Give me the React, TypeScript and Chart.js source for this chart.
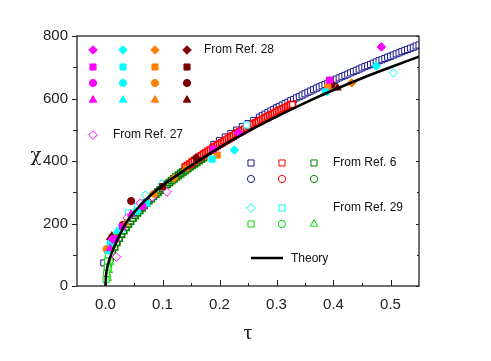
import React, { useEffect, useRef } from "react";
import { Chart, registerables } from "chart.js";
Chart.register(...registerables);

// ---------- axis ticks ----------
const xTickValues = [0, 0.1, 0.2, 0.3, 0.4, 0.5];
const xMinorTickValues = [0.05, 0.15, 0.25, 0.35, 0.45];
const yTickValues = [0, 200, 400, 600, 800];
const yMinorTickValues = [100, 300, 500, 700];

// ---------- theory ----------
const theoryTau = [0, 0.001, 0.003, 0.006, 0.011, 0.02, 0.037, 0.058, 0.08, 0.1, 0.122, 0.15, 0.2, 0.25, 0.3, 0.35, 0.4, 0.45, 0.5, 0.55];
const theoryChi = [0, 35, 58, 80, 106, 145, 205, 252, 292, 322, 350, 385, 443, 495, 542, 586, 627, 665, 700, 734];

// ---------- Ref. 28 (filled) ----------
const r28MagDiaTau = [0.484, 0.233, 0.012];
const r28MagDiaChi = [765, 490, 150];
const r28MagSqTau = [0.393, 0.189, 0.03];
const r28MagSqChi = [659, 438, 190];
const r28MagCirTau = [0.065, 0.018];
const r28MagCirChi = [255, 150];
const r28MagTriTau = [0.045, 0.008];
const r28MagTriChi = [230, 120];

const r28CyaDiaTau = [0.475, 0.226];
const r28CyaDiaChi = [704, 435];
const r28CyaSqTau = [0.386, 0.187, 0.072];
const r28CyaSqChi = [621, 406, 265];
const r28CyaCirTau = [0.009, 0.055];
const r28CyaCirChi = [138, 240];
const r28CyaTriTau = [0.02, 0.005];
const r28CyaTriChi = [175, 110];

const r28OraDiaTau = [0.432, 0.12];
const r28OraDiaChi = [650, 345];
const r28OraSqTau = [0.39, 0.196];
const r28OraSqChi = [637, 419];
const r28OraCirTau = [0.002, 0.085];
const r28OraCirChi = [118, 295];
const r28OraTriTau = [0.035, 0.14];
const r28OraTriChi = [200, 375];

const r28DrdDiaTau = [0.159, 0.009];
const r28DrdDiaChi = [410, 150];
const r28DrdSqTau = [0.397, 0.1];
const r28DrdSqChi = [643, 318];
const r28DrdCirTau = [0.045, 0.03];
const r28DrdCirChi = [272, 195];
const r28DrdTriTau = [0.407, 0.011];
const r28DrdTriChi = [634, 160];

// ---------- Ref. 27 (open magenta diamond) ----------
const r27Tau = [0.108, 0.061, 0.038, 0.019, 0.082];
const r27Chi = [301, 265, 218, 93, 285];

// ---------- Ref. 29 ----------
const r29CyaDiaTau = [0.098, 0.07, 0.505];
const r29CyaDiaChi = [326, 291, 682];
const r29CyaSqTau = [0.248, 0.04, 0.056, 0.028];
const r29CyaSqChi = [515, 234, 253, 182];
const r29GrnSqTau = [0.001, 0.002, 0.003, 0.004, 0.005, 0.007, 0.009, 0.011];
const r29GrnSqChi = [20, 40, 60, 80, 100, 120, 140, 155];
const r29GrnCirTau = [0.003, 0.005, 0.007, 0.009, 0.012];
const r29GrnCirChi = [30, 55, 80, 105, 130];
const r29GrnTriTau = [0.004, 0.006, 0.008, 0.011];
const r29GrnTriChi = [25, 50, 75, 100];

// ---------- Ref. 6 ----------
const r6NavySqTau = [-0.003, 0.128, 0.19, 0.2, 0.21, 0.22, 0.23, 0.24, 0.25, 0.26,
  0.27, 0.275, 0.28, 0.285, 0.29, 0.295, 0.3, 0.305, 0.31, 0.315, 0.32, 0.325, 0.33, 0.335, 0.34, 0.345,
  0.35, 0.355, 0.36, 0.365, 0.37, 0.375, 0.38, 0.385, 0.39, 0.395, 0.4, 0.405, 0.41, 0.415, 0.42, 0.425,
  0.43, 0.435, 0.44, 0.445, 0.45, 0.455, 0.46, 0.465, 0.47, 0.475, 0.48, 0.485, 0.49, 0.495, 0.5, 0.505,
  0.51, 0.515, 0.52, 0.525, 0.53, 0.535, 0.54, 0.545, 0.55];
const r6NavySqChi = [74, 355, 453, 465, 477, 488, 499, 510, 520, 530,
  540, 545, 550, 555, 560, 565, 570, 574, 579, 584, 588, 593, 597, 602, 606, 611,
  615, 620, 624, 628, 633, 637, 641, 645, 649, 654, 658, 662, 666, 670, 674, 678,
  682, 686, 690, 694, 698, 702, 705, 709, 713, 717, 721, 724, 728, 732, 735, 739,
  743, 746, 750, 754, 757, 761, 764, 768, 771];
const r6RedSqTau = [0.14, 0.144, 0.148, 0.152, 0.156, 0.16, 0.164, 0.168, 0.172, 0.176, 0.18, 0.184,
  0.188, 0.192, 0.196, 0.2, 0.204, 0.208, 0.212, 0.216, 0.22, 0.224, 0.228, 0.232, 0.236, 0.24, 0.244,
  0.248, 0.252, 0.256, 0.26, 0.264, 0.268, 0.272, 0.276, 0.28, 0.284, 0.288, 0.292, 0.296, 0.3, 0.304,
  0.308, 0.312, 0.316, 0.32, 0.324, 0.328];
const r6RedSqChi = [380, 385, 390, 396, 401, 406, 411, 416, 421, 426, 431, 435,
  440, 445, 449, 454, 458, 463, 467, 472, 476, 480, 485, 489, 493, 497, 501,
  505, 510, 514, 518, 522, 525, 529, 533, 537, 541, 545, 548, 552, 556, 560,
  563, 567, 571, 574, 578, 581];
const r6GreenSqTau = [0.004, 0.008, 0.012, 0.016, 0.02, 0.024, 0.028, 0.032, 0.036, 0.04, 0.044, 0.048,
  0.052, 0.056, 0.06, 0.064, 0.068, 0.072, 0.076, 0.08, 0.084, 0.088, 0.092, 0.096, 0.1, 0.104, 0.108,
  0.112, 0.116, 0.12, 0.124, 0.128, 0.132, 0.136, 0.14, 0.144, 0.148, 0.152, 0.156, 0.16, 0.164, 0.168, 0.172];
const r6GreenSqChi = [63, 89, 108, 125, 140, 153, 166, 177, 188, 198, 208, 217,
  226, 234, 242, 250, 258, 266, 273, 280, 287, 294, 300, 307, 313, 319, 325,
  331, 337, 343, 349, 354, 360, 365, 370, 376, 381, 386, 391, 396, 401, 406, 411];
const r6NavyCirTau = [0.3, 0.4, 0.5];
const r6NavyCirChi = [570, 655, 735];
const r6RedCirTau = [0.16, 0.22, 0.28];
const r6RedCirChi = [405, 478, 537];
const r6GreenCirTau = [0.05, 0.1, 0.14];
const r6GreenCirChi = [222, 316, 372];

const MAG = "#ff00ff";
const CYA = "#00ffff";
const ORA = "#ff8000";
const DRD = "#800000";
const NAVY = "#1a1a8c";
const RED = "#ff0000";
const DGRN = "#008000";
const LGRN = "#00e000";

type Shape = "rectRot" | "rect" | "circle" | "triangle";

const pts = (t: number[], c: number[]) => t.map((x, i) => ({ x, y: c[i] }));

const radiusOf = (s: Shape) => (s === "rect" ? 4.3 : s === "circle" ? 3.6 : 4.3);

function ds(label: string, t: number[], c: number[], shape: Shape, color: string, filled: boolean, bw = 1) {
  return {
    type: "scatter" as const,
    label,
    data: pts(t, c),
    pointStyle: shape,
    pointRadius: radiusOf(shape),
    pointBackgroundColor: filled ? color : "#ffffff",
    pointBorderColor: color,
    pointBorderWidth: bw,
    showLine: false,
  };
}

function drawMarker(ctx: CanvasRenderingContext2D, shape: Shape, x: number, y: number, color: string, filled: boolean) {
  const r = radiusOf(shape);
  ctx.save();
  ctx.beginPath();
  if (shape === "rectRot") {
    ctx.moveTo(x, y - r);
    ctx.lineTo(x + r, y);
    ctx.lineTo(x, y + r);
    ctx.lineTo(x - r, y);
    ctx.closePath();
  } else if (shape === "rect") {
    const s = Math.SQRT1_2 * r;
    ctx.rect(x - s, y - s, 2 * s, 2 * s);
  } else if (shape === "circle") {
    ctx.arc(x, y, r, 0, Math.PI * 2);
  } else {
    for (let k = 0; k < 3; k++) {
      const a = (k * 2 * Math.PI) / 3;
      const px = x + Math.sin(a) * r;
      const py = y - Math.cos(a) * r;
      if (k === 0) ctx.moveTo(px, py);
      else ctx.lineTo(px, py);
    }
    ctx.closePath();
  }
  ctx.fillStyle = filled ? color : "#ffffff";
  ctx.fill();
  ctx.strokeStyle = color;
  ctx.lineWidth = 1;
  ctx.stroke();
  ctx.restore();
}

const decorPlugin = {
  id: "decor",
  afterDraw(chart: any) {
    const ctx: CanvasRenderingContext2D = chart.ctx;
    const { left, right, top, bottom } = chart.chartArea;
    const xs = chart.scales.x;
    const ys = chart.scales.y;
    ctx.save();
    ctx.strokeStyle = "#222";
    ctx.lineWidth = 1.3;
    ctx.strokeRect(left, top, right - left, bottom - top);
    ctx.lineWidth = 1;
    ctx.beginPath();
    xTickValues.forEach((v) => {
      const px = Math.round(xs.getPixelForValue(v)) + 0.5;
      ctx.moveTo(px, bottom);
      ctx.lineTo(px, bottom - 6);
    });
    xMinorTickValues.forEach((v) => {
      const px = Math.round(xs.getPixelForValue(v)) + 0.5;
      ctx.moveTo(px, bottom);
      ctx.lineTo(px, bottom - 3);
    });
    yTickValues.forEach((v) => {
      const py = Math.round(ys.getPixelForValue(v)) + 0.5;
      ctx.moveTo(left, py);
      ctx.lineTo(left - 5, py);
      ctx.moveTo(right, py);
      ctx.lineTo(right - 3, py);
    });
    yMinorTickValues.forEach((v) => {
      const py = Math.round(ys.getPixelForValue(v)) + 0.5;
      ctx.moveTo(left, py);
      ctx.lineTo(left - 4, py);
      ctx.moveTo(right, py);
      ctx.lineTo(right - 2, py);
    });
    ctx.stroke();

    ctx.fillStyle = "#222";
    ctx.textAlign = "center";
    ctx.textBaseline = "middle";
    ctx.font = "22px 'Liberation Serif', 'DejaVu Serif', serif";
    ctx.fillText("τ", (left + right) / 2, 333);
    ctx.font = "18px 'DejaVu Serif', serif";
    ctx.fillText("χ", 36, 156);

    const ref28 = [MAG, CYA, ORA, DRD];
    const shapes28: Shape[] = ["rectRot", "rect", "circle", "triangle"];
    const cols28 = [93, 123, 155, 187];
    const rows28 = [50, 67, 83, 100];
    shapes28.forEach((s, ri) => {
      ref28.forEach((c, ci) => drawMarker(ctx, s, cols28[ci], rows28[ri], c, true));
    });
    drawMarker(ctx, "rectRot", 93, 135, MAG, false);
    drawMarker(ctx, "rect", 251, 163, NAVY, false);
    drawMarker(ctx, "rect", 282, 163, RED, false);
    drawMarker(ctx, "rect", 314, 163, DGRN, false);
    drawMarker(ctx, "circle", 251, 179, NAVY, false);
    drawMarker(ctx, "circle", 282, 179, RED, false);
    drawMarker(ctx, "circle", 314, 179, DGRN, false);
    drawMarker(ctx, "rectRot", 251, 208, CYA, false);
    drawMarker(ctx, "rect", 282, 208, CYA, false);
    drawMarker(ctx, "rect", 251, 224, LGRN, false);
    drawMarker(ctx, "circle", 282, 224, LGRN, false);
    drawMarker(ctx, "triangle", 314, 224, LGRN, false);
    ctx.strokeStyle = "#000";
    ctx.lineWidth = 2.5;
    ctx.beginPath();
    ctx.moveTo(251, 258);
    ctx.lineTo(283, 258);
    ctx.stroke();

    ctx.fillStyle = "#111";
    ctx.font = "12px 'Liberation Sans', Arial, sans-serif";
    ctx.textAlign = "left";
    ctx.textBaseline = "middle";
    ctx.fillText("From Ref. 28", 204, 50);
    ctx.fillText("From Ref. 27", 113, 135);
    ctx.fillText("From Ref. 6", 333, 163);
    ctx.fillText("From Ref. 29", 333, 208);
    ctx.fillText("Theory", 291, 259);
    ctx.restore();
  },
};

export default function App() {
  const ref = useRef<HTMLCanvasElement | null>(null);
  useEffect(() => {
    document.body.style.margin = "0";
    const canvas = ref.current;
    if (!canvas) return;
    const datasets: any[] = [
      {
        type: "line",
        label: "Theory",
        data: pts(theoryTau, theoryChi),
        borderColor: "#000",
        borderWidth: 2.6,
        pointRadius: 0,
        cubicInterpolationMode: "monotone",
        fill: false,
      },
      ds("r28 mag dia", r28MagDiaTau, r28MagDiaChi, "rectRot", MAG, true),
      ds("r28 mag sq", r28MagSqTau, r28MagSqChi, "rect", MAG, true),
      ds("r28 mag cir", r28MagCirTau, r28MagCirChi, "circle", MAG, true),
      ds("r28 mag tri", r28MagTriTau, r28MagTriChi, "triangle", MAG, true),
      ds("r28 cya dia", r28CyaDiaTau, r28CyaDiaChi, "rectRot", CYA, true),
      ds("r28 cya sq", r28CyaSqTau, r28CyaSqChi, "rect", CYA, true),
      ds("r28 cya cir", r28CyaCirTau, r28CyaCirChi, "circle", CYA, true),
      ds("r28 cya tri", r28CyaTriTau, r28CyaTriChi, "triangle", CYA, true),
      ds("r28 ora dia", r28OraDiaTau, r28OraDiaChi, "rectRot", ORA, true),
      ds("r28 ora sq", r28OraSqTau, r28OraSqChi, "rect", ORA, true),
      ds("r28 ora cir", r28OraCirTau, r28OraCirChi, "circle", ORA, true),
      ds("r28 ora tri", r28OraTriTau, r28OraTriChi, "triangle", ORA, true),
      ds("r28 drd dia", r28DrdDiaTau, r28DrdDiaChi, "rectRot", DRD, true),
      ds("r28 drd sq", r28DrdSqTau, r28DrdSqChi, "rect", DRD, true),
      ds("r28 drd cir", r28DrdCirTau, r28DrdCirChi, "circle", DRD, true),
      ds("r28 drd tri", r28DrdTriTau, r28DrdTriChi, "triangle", DRD, true),
      ds("r27", r27Tau, r27Chi, "rectRot", MAG, false),
      ds("r29 cya dia", r29CyaDiaTau, r29CyaDiaChi, "rectRot", CYA, false),
      ds("r29 cya sq", r29CyaSqTau, r29CyaSqChi, "rect", CYA, false),
      ds("r29 grn sq", r29GrnSqTau, r29GrnSqChi, "rect", LGRN, false),
      ds("r29 grn cir", r29GrnCirTau, r29GrnCirChi, "circle", LGRN, false),
      ds("r29 grn tri", r29GrnTriTau, r29GrnTriChi, "triangle", LGRN, false),
      ds("r6 red sq", r6RedSqTau, r6RedSqChi, "rect", RED, false, 1.7),
      ds("r6 green sq", r6GreenSqTau, r6GreenSqChi, "rect", DGRN, false, 1.7),
      ds("r6 navy sq", r6NavySqTau, r6NavySqChi, "rect", NAVY, false),
      ds("r6 red cir", r6RedCirTau, r6RedCirChi, "circle", RED, false),
      ds("r6 green cir", r6GreenCirTau, r6GreenCirChi, "circle", DGRN, false),
      ds("r6 navy cir", r6NavyCirTau, r6NavyCirChi, "circle", NAVY, false),
    ];
    const chart = new Chart(canvas, {
      type: "scatter",
      data: { datasets },
      options: {
        animation: false,
        responsive: false,
        maintainAspectRatio: false,
        layout: { padding: { left: 0, right: 72, top: 36, bottom: 0 } },
        plugins: { legend: { display: false }, tooltip: { enabled: false }, title: { display: false } },
        scales: {
          x: {
            type: "linear",
            min: -0.05,
            max: 0.55,
            grid: { display: false, drawTicks: false },
            border: { display: false },
            afterBuildTicks: (s: any) => {
              s.ticks = xTickValues.map((v) => ({ value: v }));
            },
            afterFit: (s: any) => {
              s.height = 75;
            },
            ticks: {
              color: "#222",
              padding: 10,
              maxRotation: 0,
              font: { family: "'Liberation Sans', Arial, sans-serif", size: 15 },
              callback: (v: any) => Number(v).toFixed(1),
            },
          },
          y: {
            type: "linear",
            min: 0,
            max: 800,
            grid: { display: false, drawTicks: false },
            border: { display: false },
            afterBuildTicks: (s: any) => {
              s.ticks = yTickValues.map((v) => ({ value: v }));
            },
            afterFit: (s: any) => {
              s.width = 77;
            },
            ticks: {
              color: "#222",
              padding: 9,
              font: { family: "'Liberation Sans', Arial, sans-serif", size: 15 },
              callback: (v: any) => String(v),
            },
          },
        },
      },
      plugins: [decorPlugin],
    });
    return () => chart.destroy();
  }, []);
  return (
    <div style={{ width: 491, height: 361, background: "#fff" }}>
      <canvas ref={ref} width={491} height={361} style={{ display: "block" }} />
    </div>
  );
}
